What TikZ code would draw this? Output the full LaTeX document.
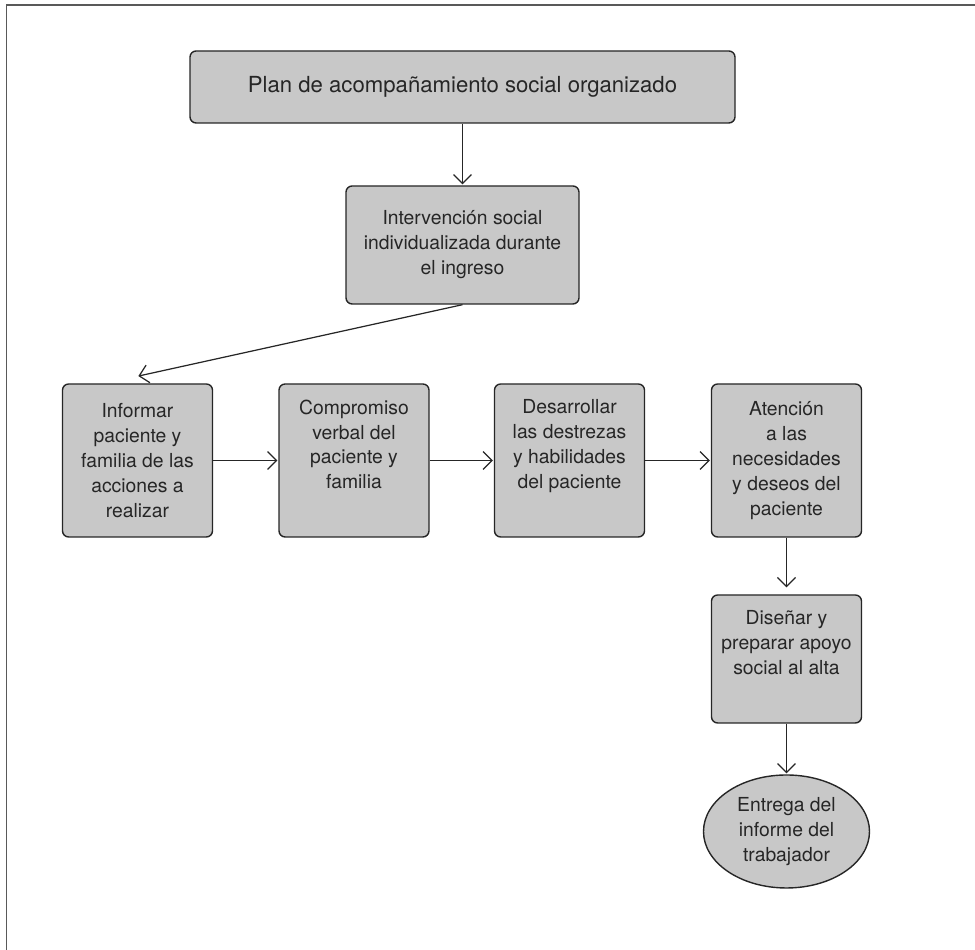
\documentclass[tikz,border=0pt]{standalone}
\usepackage{fontspec}
\setmainfont{TeX Gyre Heros}
\usetikzlibrary{arrows.meta,positioning,shapes.geometric}
\definecolor{planInk}{HTML}{262626}
\definecolor{planFill}{HTML}{C8C8C8}
\definecolor{planFrame}{HTML}{595959}
\tikzset{
  every picture/.style={font=\fontsize{11}{14.2}\selectfont, text=planInk},
  plan box/.style={draw=planInk, line width=0.8pt, rounded corners=3.5pt,
    fill=planFill, align=center, inner sep=0pt, minimum width=3cm, minimum height=3.06cm},
  plan end/.style={ellipse, draw=planInk, line width=0.8pt, fill=planFill,
    align=center, inner sep=0pt, minimum width=3.32cm, minimum height=2.26cm},
  plan arrow/.style={-{Straight Barb[length=1.8mm,width=3.6mm]},
    draw=planInk, line width=0.7pt, shorten >=0.5pt},
  plan frame/.style={draw=planFrame, line width=1.1pt}
}

\begin{document}
\begin{tikzpicture}[x=1cm,y=1cm]
  \useasboundingbox (0,0) rectangle (19.5,19);
  \draw[plan frame] (0.13,0) -- (0.13,18.9) -- (19.5,18.9);
  \node[plan box, minimum width=10.9cm, minimum height=1.44cm, font=\fontsize{12.6}{15}\selectfont] (plan) at (9.25,17.26) {Plan de acompañamiento social organizado};
  \node[plan box, minimum width=4.66cm, minimum height=2.36cm] (interv) at (9.25,14.1) {Intervención social\\individualizada durante\\el ingreso};
  \node[plan box] (inform) at (2.75,9.79) {Informar\\paciente y\\familia de las\\acciones a\\realizar};
  \node[plan box] (compr) at (7.08,9.79) {Compromiso\\verbal del\\paciente y\\familia\\\strut};
  \node[plan box] (desar) at (11.39,9.79) {Desarrollar\\las destrezas\\y habilidades\\del paciente\\\strut};
  \node[plan box] (atenc) at (15.73,9.79) {Atención\\a las\\necesidades\\y deseos del\\paciente};
  \node[plan box, minimum height=2.56cm] (disen) at (15.73,5.82) {Diseñar y\\preparar apoyo\\social al alta\\\strut};
  \node[plan end] (entrega) at (15.73,2.37) {Entrega del\\informe del\\trabajador};
  \coordinate (inform in) at ([yshift=4pt]inform.north);
  \draw[plan arrow] (plan) -- (interv);
  \draw[plan arrow] (interv.south) -- (inform in);
  \draw[plan arrow] (inform) -- (compr);
  \draw[plan arrow] (compr) -- (desar);
  \draw[plan arrow] (desar) -- (atenc);
  \draw[plan arrow, shorten >=4pt] (atenc) -- (disen);
  \draw[plan arrow] (disen) -- (entrega);
\end{tikzpicture}
\end{document}
